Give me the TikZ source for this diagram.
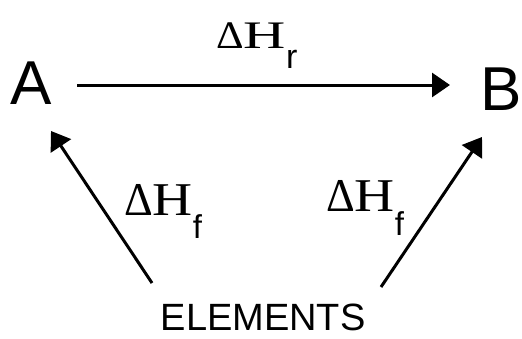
\documentclass[tikz,border=0pt]{standalone}
\usepackage{fontspec}
\setmainfont{Liberation Sans}
\newfontfamily\dhserif{Liberation Serif}
\usetikzlibrary{arrows.meta}
\begin{document}
\begin{tikzpicture}[x=1pt,y=-1pt,
  conn/.style={line width=3pt,-{Triangle[length=18pt,width=24pt]}},
  lbl/.style={inner sep=0pt,anchor=base west},
  big/.style={font=\fontsize{62}{62}\selectfont},
  elem/.style={font=\fontsize{38}{40}\selectfont}]
\useasboundingbox (0,0) rectangle (522,338);
% species
\node[lbl,big] (A) at (10,104) {A};
\node[lbl,big] (B) at (480.5,110) {B};
\node[lbl,elem] (E) at (160.5,330.5) {ELEMENTS};
% labels
\node[lbl] (Hr) at (216,48) {{\fontsize{39}{40}\dhserif\scalebox{1.1}[1]{Δ}\scalebox{1.5}[1]{H}}\raisebox{-20pt}{\fontsize{34}{36}\selectfont r}};
\node[lbl] (HfA) at (124,215) {{\fontsize{47}{50}\dhserif\scalebox{0.95}[1]{Δ}\scalebox{1.18}[1]{H}}\raisebox{-23pt}{\fontsize{33}{36}\selectfont f}};
\node[lbl] (HfB) at (326,211) {{\fontsize{47}{50}\dhserif\scalebox{0.95}[1]{Δ}\scalebox{1.18}[1]{H}}\raisebox{-24pt}{\fontsize{33}{36}\selectfont f}};
% connector ends
\coordinate (AB-s) at (77,85);
\coordinate (AB-e) at (450,85);
\coordinate (EA-s) at (152,283);
\coordinate (EA-e) at (51,131);
\coordinate (EB-s) at (381,287);
\coordinate (EB-e) at (482,137);
\draw[conn] (AB-s) -- (AB-e);
\draw[conn] (EA-s) -- (EA-e);
\draw[conn] (EB-s) -- (EB-e);
\end{tikzpicture}
\end{document}
